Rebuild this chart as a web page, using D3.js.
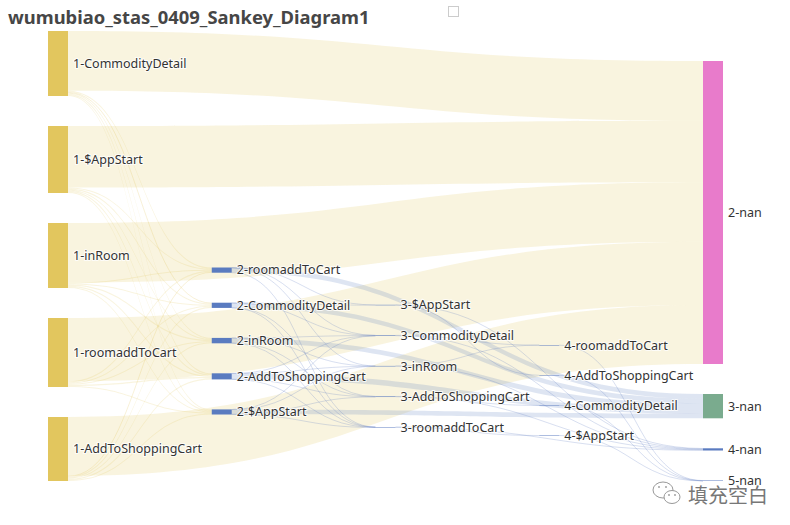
<!DOCTYPE html>
<html>
<head>
<meta charset="utf-8">
<script src="https://cdn.jsdelivr.net/npm/d3@7"></script>
<style>
  body { margin: 0; background: #fff; }
  svg { display: block; }
</style>
</head>
<body>
<svg id="chart" width="790" height="525"></svg>
<script>
// ---- data ----
const title = "wumubiao_stas_0409_Sankey_Diagram1";

const column1 = ["1-CommodityDetail", "1-$AppStart", "1-inRoom", "1-roomaddToCart", "1-AddToShoppingCart"];
const column2 = ["2-roomaddToCart", "2-CommodityDetail", "2-inRoom", "2-AddToShoppingCart", "2-$AppStart"];
const column3 = ["3-$AppStart", "3-CommodityDetail", "3-inRoom", "3-AddToShoppingCart", "3-roomaddToCart"];
const column4 = ["4-roomaddToCart", "4-AddToShoppingCart", "4-CommodityDetail", "4-$AppStart"];
const exits = ["2-nan", "3-nan", "4-nan", "5-nan"];

// step 1 -> step 2 (rows: column1, columns: column2)
const flow12 = [
  [12, 8, 10, 12, 10],
  [10, 12, 10, 12, 11],
  [10, 10, 13, 12, 10],
  [12, 11, 11, 13, 10],
  [8, 11, 10, 12, 10]
];
const exit1 = [598, 615, 595, 633, 589];   // column1 -> 2-nan

// step 2 -> step 3 (rows: column2, columns: column3)
const flow23 = [
  [2, 1, 1, 0, 1],
  [3, 1, 0, 1, 1],
  [0, 1, 2, 2, 1],
  [0, 2, 1, 1, 1],
  [0, 1, 1, 2, 1]
];
const exit2 = [47, 46, 48, 56, 46];        // column2 -> 3-nan

// step 3 -> step 4 (rows: column3, columns: column4)
const flow34 = [
  [0, 1, 0, 0],
  [1, 0, 0, 0],
  [1, 0, 0, 0],
  [0, 0, 1, 0],
  [0, 0, 0, 1]
];
const exit3 = [4, 5, 4, 5, 4];             // column3 -> 4-nan
const exit4 = [2, 1, 1, 1];                // column4 -> 5-nan

// ---- styles ----
const stepColor = "#e2c65e";
const pathColor = "#5a7bc0";
const exitColors = { "2-nan": "#e87bcb", "3-nan": "#7aab8e", "4-nan": "#5a7bc0", "5-nan": "#5a7bc0" };

const yTop = 31, yBottom = 481, nodeGap = 30, nodeWidth = 20;
const xLeft = 48, xRight = 703;

// ---- graph ----
const columns = [column1, column2, column3, column4, exits];
const nodes = [];
const byName = new Map();
columns.forEach((col, ci) => col.forEach(name => {
  const n = { name, col: ci, inLinks: [], outLinks: [] };
  nodes.push(n);
  byName.set(name, n);
}));

const links = [];
function addLink(s, t, v) {
  if (!v) return;
  const l = { source: byName.get(s), target: byName.get(t), value: v };
  l.source.outLinks.push(l);
  l.target.inLinks.push(l);
  links.push(l);
}
column1.forEach((s, i) => { addLink(s, "2-nan", exit1[i]); column2.forEach((t, j) => addLink(s, t, flow12[i][j])); });
column2.forEach((s, i) => { addLink(s, "3-nan", exit2[i]); column3.forEach((t, j) => addLink(s, t, flow23[i][j])); });
column3.forEach((s, i) => { addLink(s, "4-nan", exit3[i]); column4.forEach((t, j) => addLink(s, t, flow34[i][j])); });
column4.forEach((s, i) => addLink(s, "5-nan", exit4[i]));

nodes.forEach(n => {
  n.value = Math.max(d3.sum(n.inLinks, l => l.value), d3.sum(n.outLinks, l => l.value));
  n.color = n.col === 0 ? stepColor : (exitColors[n.name] || pathColor);
});

// ---- layout ----
const x = d3.scaleLinear().domain([0, columns.length - 1]).range([xLeft, xRight]);
const span = yBottom - yTop;
const byCol = columns.map(col => col.map(name => byName.get(name)));
const ky = d3.min(byCol, col => (span - (col.length - 1) * nodeGap) / d3.sum(col, n => n.value));
const size = d3.scaleLinear().domain([0, 1]).range([0, ky]);

nodes.forEach(n => { n.x = x(n.col); n.dy = size(n.value); n.y = 0; });
const center = n => n.y + n.dy / 2;

function resolveCollisions() {
  byCol.forEach(col => {
    let y0 = 0, last = null;
    col.forEach(n => {
      const d = y0 - n.y;
      if (d > 0) n.y += d;
      y0 = n.y + n.dy + nodeGap;
      last = n;
    });
    const over = y0 - nodeGap - span;
    if (over > 0) {
      last.y -= over;
      y0 = last.y;
      for (let i = col.length - 2; i >= 0; i--) {
        const n = col[i];
        const d = n.y + n.dy + nodeGap - y0;
        if (d > 0) n.y -= d;
        y0 = n.y;
      }
    }
  });
}
function relaxRightToLeft(alpha) {
  byCol.slice().reverse().forEach(col => col.forEach(n => {
    if (!n.outLinks.length) return;
    const c = d3.sum(n.outLinks, l => center(l.target) * l.value) / d3.sum(n.outLinks, l => l.value);
    n.y += (c - center(n)) * alpha;
  }));
}
function relaxLeftToRight(alpha) {
  byCol.forEach(col => col.forEach(n => {
    if (!n.inLinks.length) return;
    const c = d3.sum(n.inLinks, l => center(l.source) * l.value) / d3.sum(n.inLinks, l => l.value);
    n.y += (c - center(n)) * alpha;
  }));
}

resolveCollisions();
for (let it = 0, alpha = 1; it < 32; it++) {
  alpha *= 0.99;
  relaxRightToLeft(alpha);
  resolveCollisions();
  relaxLeftToRight(alpha);
  resolveCollisions();
}
nodes.forEach(n => { n.y += yTop; });

// link attachment points
nodes.forEach(n => {
  n.outLinks.sort((a, b) => a.target.y - b.target.y);
  n.inLinks.sort((a, b) => a.source.y - b.source.y);
  let sy = 0;
  n.outLinks.forEach(l => { l.sy = sy; l.dy = size(l.value); sy += l.dy; });
  let ty = 0;
  n.inLinks.forEach(l => { l.ty = ty; ty += size(l.value); });
});

// ---- drawing ----
const svg = d3.select("#chart");

svg.append("text")
  .attr("x", 8).attr("y", 24)
  .attr("font-family", "'Noto Sans', 'Open Sans', sans-serif")
  .attr("font-size", 18.4).attr("font-weight", "bold")
  .attr("fill", "#464646")
  .text(title);

svg.append("rect")
  .attr("x", 448.5).attr("y", 6.5).attr("width", 10).attr("height", 10)
  .attr("fill", "#fff").attr("stroke", "#ccc");

function bandPath(l) {
  const x0 = l.source.x + nodeWidth, x1 = l.target.x;
  const xi = d3.interpolateNumber(x0, x1);
  const c0 = xi(0.5), c1 = xi(0.5);
  const y0 = l.source.y + l.sy, y1 = l.target.y + l.ty, d = l.dy;
  return `M${x0},${y0}C${c0},${y0} ${c1},${y1} ${x1},${y1}` +
         `L${x1},${y1 + d}C${c1},${y1 + d} ${c0},${y0 + d} ${x0},${y0 + d}Z`;
}
function linePath(l) {
  const x0 = l.source.x + nodeWidth, x1 = l.target.x;
  const xi = d3.interpolateNumber(x0, x1);
  const y0 = l.source.y + l.sy + l.dy / 2, y1 = l.target.y + l.ty + l.dy / 2;
  return `M${x0},${y0}C${xi(0.5)},${y0} ${xi(0.5)},${y1} ${x1},${y1}`;
}

const linkG = svg.append("g");
links.forEach(l => {
  if (l.dy >= 1) {
    linkG.append("path").attr("d", bandPath(l))
      .attr("fill", l.source.color).attr("fill-opacity", 0.2);
  } else {
    linkG.append("path").attr("d", linePath(l))
      .attr("fill", "none").attr("stroke", l.source.color)
      .attr("stroke-opacity", 0.3).attr("stroke-width", 0.8);
  }
});

svg.append("g").selectAll("rect").data(nodes).join("rect")
  .attr("x", d => d.x).attr("y", d => d.y)
  .attr("width", nodeWidth).attr("height", d => Math.max(d.dy, 0.5))
  .attr("fill", d => d.color);

svg.append("g").selectAll("text").data(nodes).join("text")
  .attr("x", d => d.x + nodeWidth + 5)
  .attr("y", d => center(d))
  .attr("dy", "0.35em")
  .attr("font-family", "'Noto Sans', 'Open Sans', sans-serif")
  .attr("font-size", 12.5)
  .attr("fill", "#333")
  .attr("stroke", "#fff").attr("stroke-width", 2).attr("stroke-opacity", 0.8)
  .attr("paint-order", "stroke")
  .text(d => d.name);

// signature mark in the corner
const mark = svg.append("g").attr("fill", "none").attr("stroke", "#999").attr("stroke-width", 1);
mark.append("ellipse").attr("cx", 663).attr("cy", 490).attr("rx", 10).attr("ry", 8).attr("fill", "#fff");
mark.append("ellipse").attr("cx", 672).attr("cy", 497).attr("rx", 8).attr("ry", 6.5).attr("fill", "#fff");
[[659, 487], [666, 487], [669, 495], [675, 495]].forEach(([cx, cy]) =>
  mark.append("circle").attr("cx", cx).attr("cy", cy).attr("r", 0.9).attr("fill", "#999").attr("stroke", "none"));
svg.append("text")
  .attr("x", 688).attr("y", 503)
  .attr("font-family", "'Noto Sans CJK SC', sans-serif")
  .attr("font-size", 20)
  .attr("fill", "#777")
  .attr("stroke", "#fff").attr("stroke-width", 1).attr("paint-order", "stroke")
  .text("填充空白");
</script>
</body>
</html>
